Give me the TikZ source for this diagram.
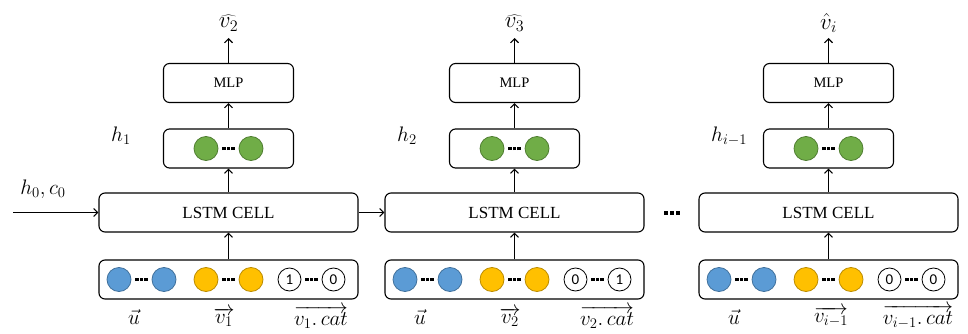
\RequirePackage{fix-cm}
\documentclass[tikz,border=0pt]{standalone}
\usepackage{fontspec}
\setmainfont{Liberation Serif}
\newfontfamily\numfont{Carlito}
\usetikzlibrary{arrows.meta}
\definecolor{cblue}{HTML}{5B9BD5}
\definecolor{cbluee}{HTML}{41719C}
\definecolor{cyel}{HTML}{FFC000}
\definecolor{cyele}{HTML}{BC8C00}
\definecolor{cgreen}{HTML}{70AD47}
\definecolor{cgreene}{HTML}{507E32}
\newcommand{\dotrow}{\rule{3.2pt}{3.2pt}\hspace{1.3pt}\rule{3.2pt}{3.2pt}\hspace{1.3pt}\rule{3.2pt}{3.2pt}}
\newcommand{\bigdotrow}{\rule{4pt}{4pt}\hspace{2pt}\rule{4pt}{4pt}\hspace{2pt}\rule{4pt}{4pt}}
\tikzset{
  box/.style={draw, line width=1.1pt, rounded corners=6pt, minimum width=259pt, minimum height=39pt, inner sep=0pt},
  sbox/.style={draw, line width=1.1pt, rounded corners=6pt, minimum width=130pt, minimum height=39pt, inner sep=0pt},
  circ/.style={circle, line width=0.8pt, minimum size=24pt, inner sep=0pt},
  blu/.style={circ, fill=cblue, draw=cbluee},
  yel/.style={circ, fill=cyel, draw=cyele},
  grn/.style={circ, fill=cgreen, draw=cgreene},
  wht/.style={circ, fill=white, draw=black, minimum size=23pt, font=\numfont\fontsize{15}{17}\selectfont},
  dts/.style={inner sep=0pt, font=\fontsize{3}{3}\selectfont},
  arr/.style={-{Straight Barb[length=4pt,width=8pt]}, line width=1.1pt},
  lab/.style={inner sep=0pt, font=\fontsize{21}{24}\selectfont},
  hatlab/.style={inner sep=0pt, font=\fontsize{23}{26}\selectfont},
}
\begin{document}
\begin{tikzpicture}[x=1pt,y=-1pt]
\useasboundingbox (0,0) rectangle (968,334);
\foreach \i/\ox/\na/\nb in {1/0/1/0, 2/286/0/1, 3/600/0/0}{
  \begin{scope}[xshift=\ox pt]
    \node[box] (lstm\i) at (228.5,212.5) {\fontsize{17}{20}\selectfont LSTM CELL};
    \node[box] (in\i) at (228.5,279.5) {};
    \node[sbox] (h\i) at (228.5,148.5) {};
    \node[sbox] (mlp\i) at (228.5,83) {\fontsize{14.5}{17}\selectfont MLP};
    \coordinate (top\i) at (228.5,38);
    % input circles
    \node[blu] (ua\i) at (119,279.5) {};
    \node[blu] (ub\i) at (164,279.5) {};
    \node[dts] (ud\i) at (141.5,279.5) {\dotrow};
    \node[yel] (va\i) at (206,279.5) {};
    \node[yel] (vb\i) at (251,279.5) {};
    \node[dts] (vd\i) at (228.5,279.5) {\dotrow};
    \node[wht] (ca\i) at (289.5,279.5) {\na};
    \node[wht] (cb\i) at (333.5,279.5) {\nb};
    \node[dts] (cd\i) at (311.5,279.5) {\dotrow};
    % hidden circles
    \node[grn] (ga\i) at (206,148.5) {};
    \node[grn] (gb\i) at (251,148.5) {};
    \node[dts] (gd\i) at (228.5,148.5) {\dotrow};
  \end{scope}
  \draw[arr] (in\i.north) -- (lstm\i.south);
  \draw[arr] (lstm\i.north) -- (h\i.south);
  \draw[arr] (h\i.north) -- (mlp\i.south);
  \draw[arr] (mlp\i.north) -- (top\i);
}
% output labels
\node[hatlab] (o1) at (228.5,23) {$\widehat{v_2}$};
\node[hatlab] (o2) at (514.5,23) {$\widehat{v_3}$};
\node[hatlab] (o3) at (828.5,23) {$\hat{v}_i$};
% hidden labels
\node[lab, anchor=west] (hl1) at (111,136) {$h_1$};
\node[lab, anchor=west] (hl2) at (397,136) {$h_2$};
\node[lab, anchor=west] (hl3) at (711,136) {$h_{i-1}$};
% initial state
\coordinate (start) at (13,212.5);
\node[lab] (h0) at (43,189) {$h_0, c_0$};
\draw[arr] (start) -- (lstm1.west);
\draw[arr] (lstm1.east) -- (lstm2.west);
\node[inner sep=0pt] (gap) at (672,212.5) {\bigdotrow};
% bottom labels
\node[lab] (u1) at (134,317) {$\vec{u}$};
\node[lab] (v1) at (224,317) {$\overrightarrow{v_1}$};
\node[lab] (c1) at (321,317) {$\overrightarrow{v_1\mathbf{.}\,cat}$};
\node[lab] (u2) at (420,317) {$\vec{u}$};
\node[lab] (v2) at (510,317) {$\overrightarrow{v_2}$};
\node[lab] (c2) at (607,317) {$\overrightarrow{v_2\mathbf{.}\,cat}$};
\node[lab] (u3) at (734,317) {$\vec{u}$};
\node[lab] (v3) at (831,317) {$\overrightarrow{v_{i-1}}$};
\node[lab] (c3) at (918,317) {$\overrightarrow{v_{i-1}\mathbf{.}\,cat}$};
\end{tikzpicture}
\end{document}
